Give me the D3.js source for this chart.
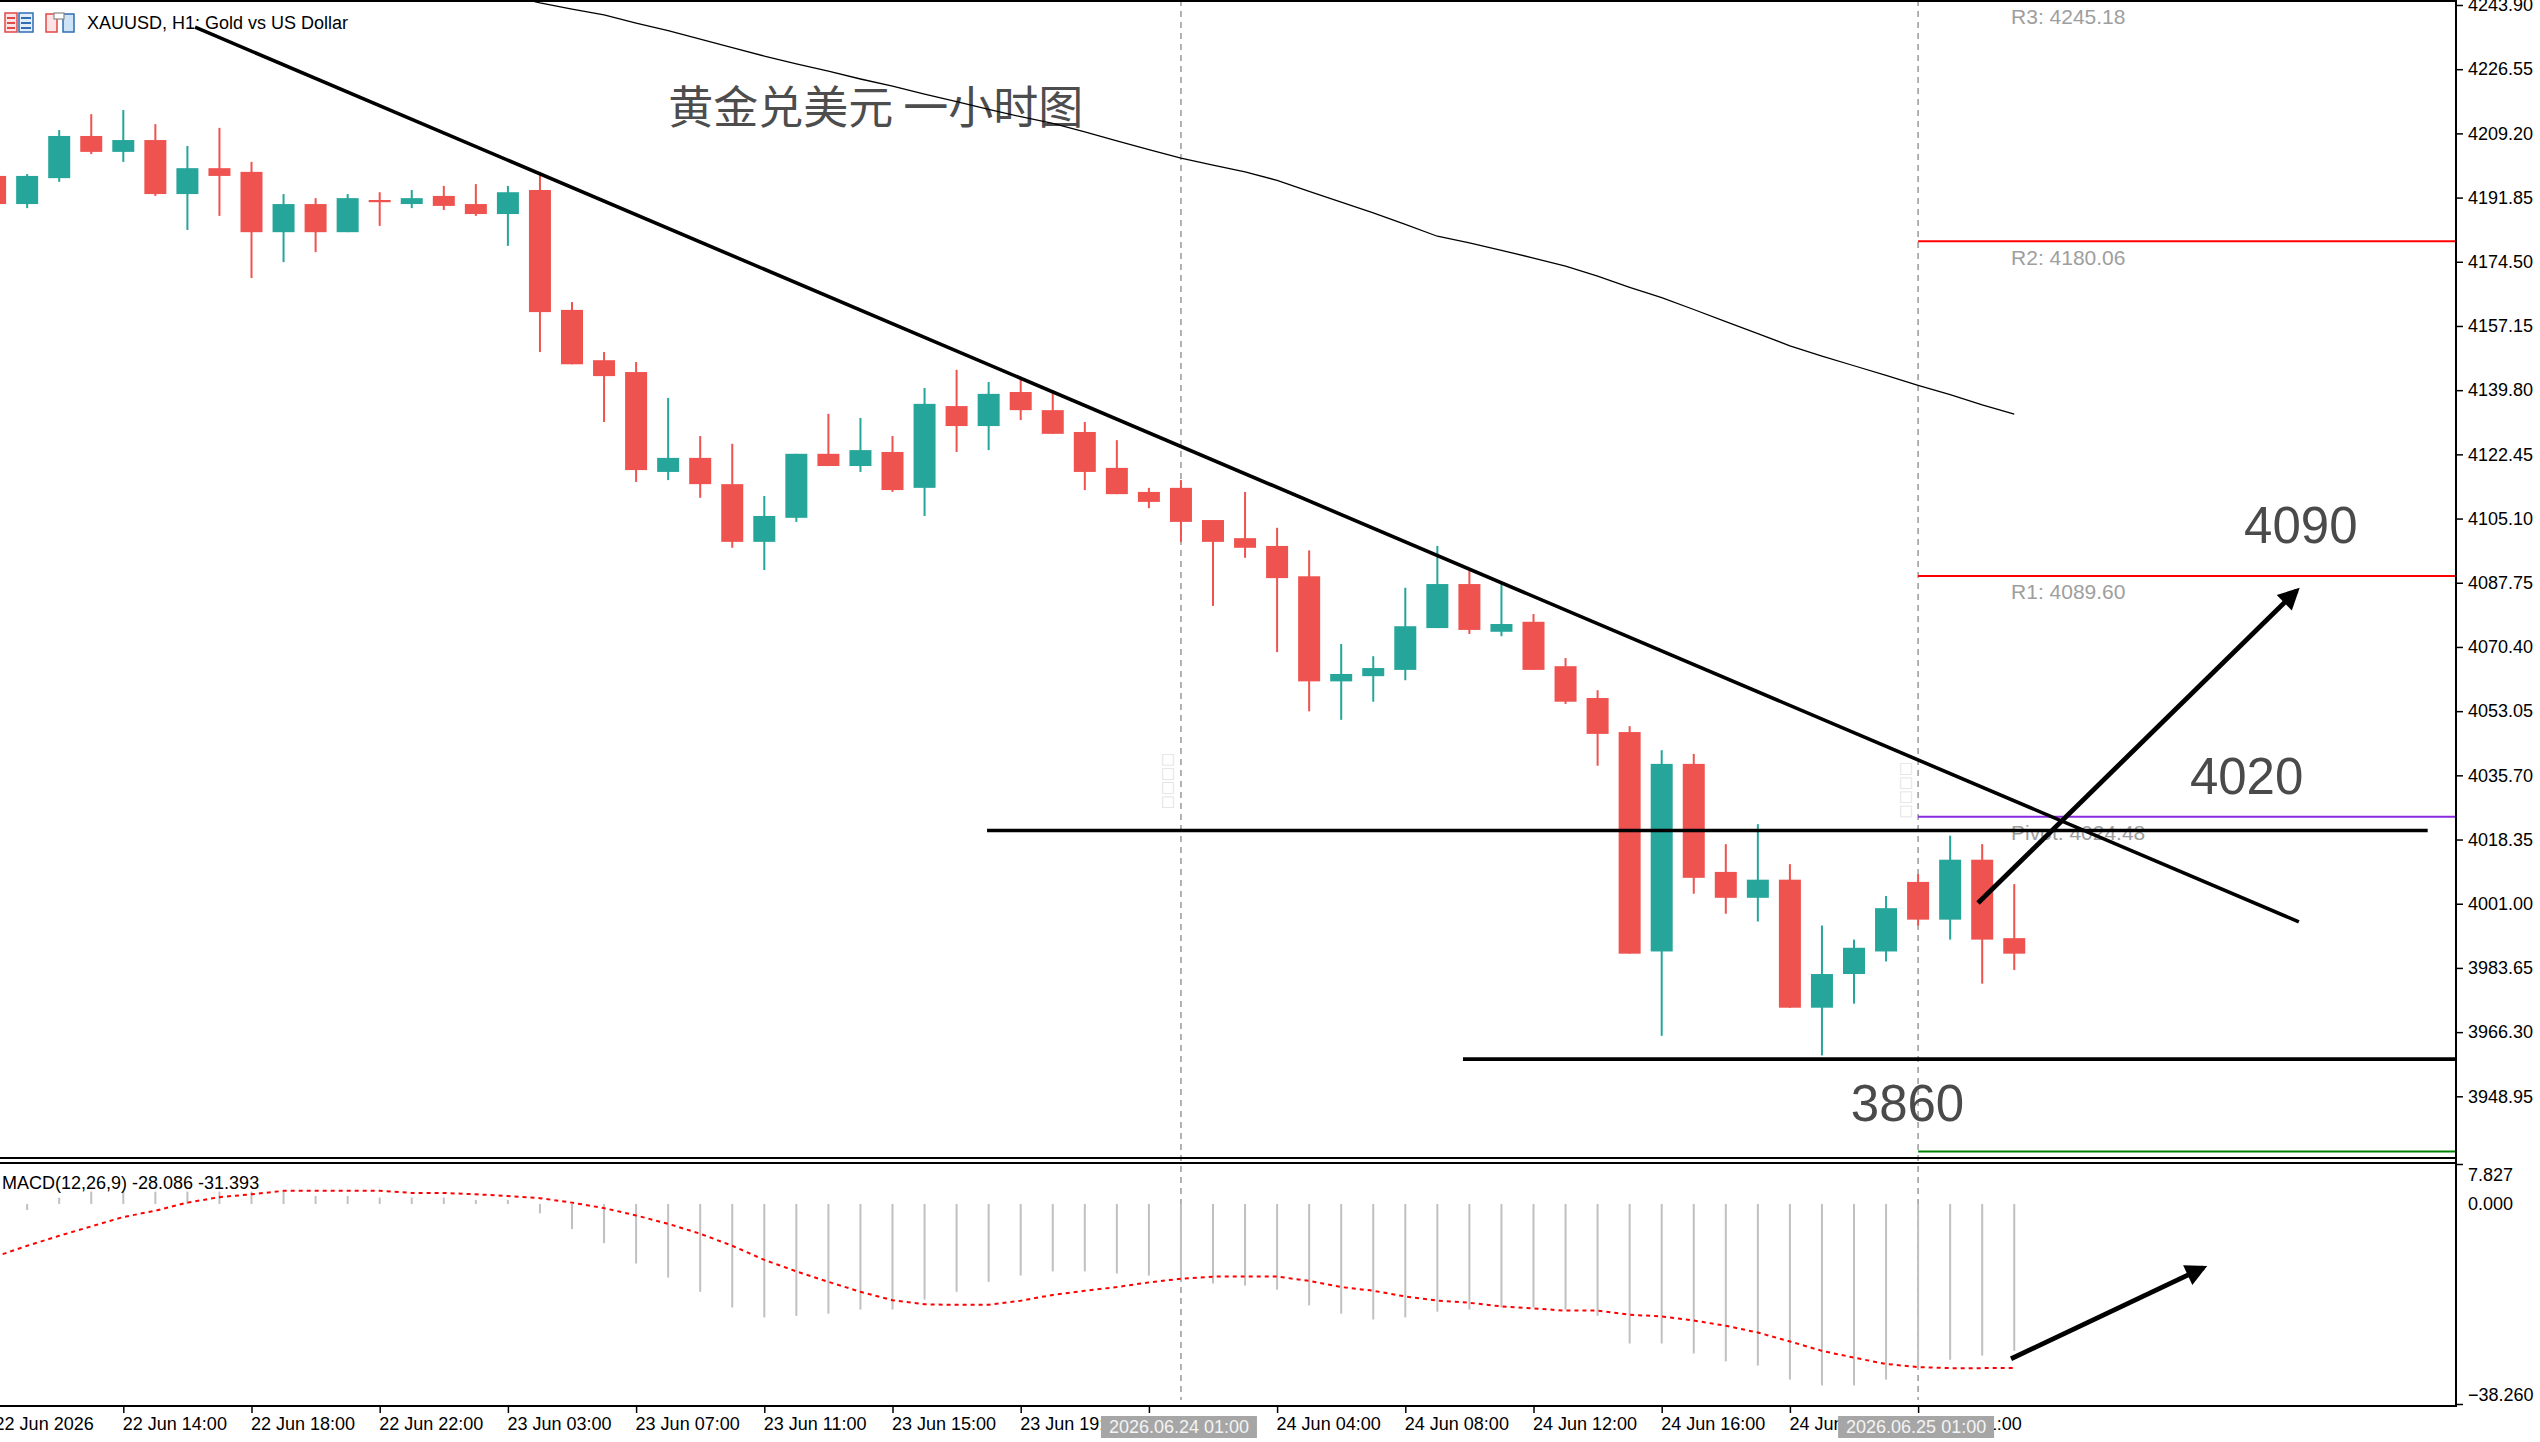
<!DOCTYPE html>
<html>
<head>
<meta charset="utf-8">
<script src="https://cdn.jsdelivr.net/npm/d3@7"></script>
<style>
  html, body { margin: 0; padding: 0; background: #fff; overflow: hidden; }
  svg { display: block; }
  .axis text { font-family: "Liberation Sans", Arial, sans-serif; font-size: 18px; fill: #000; }
  .axis line { stroke: #000; stroke-width: 1.5; }
</style>
</head>
<body>
<div class="container"></div>
<script>
// hourly bars, XAUUSD H1
const times = [
  "2026.06.22 10:00", "2026.06.22 11:00", "2026.06.22 12:00", "2026.06.22 13:00", "2026.06.22 14:00",
  "2026.06.22 15:00", "2026.06.22 16:00", "2026.06.22 17:00", "2026.06.22 18:00", "2026.06.22 19:00",
  "2026.06.22 20:00", "2026.06.22 21:00", "2026.06.22 22:00", "2026.06.22 23:00", "2026.06.23 01:00",
  "2026.06.23 02:00", "2026.06.23 03:00", "2026.06.23 04:00", "2026.06.23 05:00", "2026.06.23 06:00",
  "2026.06.23 07:00", "2026.06.23 08:00", "2026.06.23 09:00", "2026.06.23 10:00", "2026.06.23 11:00",
  "2026.06.23 12:00", "2026.06.23 13:00", "2026.06.23 14:00", "2026.06.23 15:00", "2026.06.23 16:00",
  "2026.06.23 17:00", "2026.06.23 18:00", "2026.06.23 19:00", "2026.06.23 20:00", "2026.06.23 21:00",
  "2026.06.23 22:00", "2026.06.23 23:00", "2026.06.24 01:00", "2026.06.24 02:00", "2026.06.24 03:00",
  "2026.06.24 04:00", "2026.06.24 05:00", "2026.06.24 06:00", "2026.06.24 07:00", "2026.06.24 08:00",
  "2026.06.24 09:00", "2026.06.24 10:00", "2026.06.24 11:00", "2026.06.24 12:00", "2026.06.24 13:00",
  "2026.06.24 14:00", "2026.06.24 15:00", "2026.06.24 16:00", "2026.06.24 17:00", "2026.06.24 18:00",
  "2026.06.24 19:00", "2026.06.24 20:00", "2026.06.24 21:00", "2026.06.24 22:00", "2026.06.24 23:00",
  "2026.06.25 01:00", "2026.06.25 02:00", "2026.06.25 03:00", "2026.06.25 04:00"
];

const opens = [
  4197.7, 4190.1, 4197.1, 4208.5, 4204.2, 4207.4, 4192.8, 4199.8, 4198.8, 4182.5,
  4190.1, 4182.5, 4191.2, 4190.1, 4192.3, 4190.1, 4187.4, 4193.9, 4161.5, 4147.9,
  4144.7, 4117.7, 4121.5, 4114.4, 4098.8, 4105.3, 4122.6, 4119.3, 4123.1, 4113.4,
  4135.5, 4130.1, 4139.3, 4134.4, 4128.5, 4118.8, 4112.3, 4113.4, 4104.7, 4099.8,
  4097.7, 4089.5, 4061.1, 4062.5, 4064.2, 4075.5, 4087.4, 4074.5, 4077.2, 4065.2,
  4056.6, 4047.4, 3988.1, 4038.8, 4009.6, 4002.6, 4007.5, 3972.9, 3982.0, 3988.1,
  4006.9, 3996.7, 4012.9, 3991.7
];
const highs = [
  4198.5, 4198.2, 4210.1, 4214.4, 4215.5, 4211.7, 4205.8, 4210.7, 4201.5, 4192.8,
  4191.7, 4192.8, 4193.3, 4193.9, 4195.0, 4195.5, 4195.0, 4198.8, 4163.6, 4150.1,
  4147.4, 4137.7, 4127.4, 4125.3, 4111.2, 4122.6, 4133.4, 4132.3, 4127.4, 4140.4,
  4145.3, 4142.0, 4143.1, 4139.8, 4131.2, 4126.3, 4113.4, 4115.5, 4104.7, 4112.3,
  4102.6, 4096.5, 4071.2, 4067.9, 4086.4, 4097.7, 4091.4, 4087.7, 4079.3, 4067.4,
  4058.7, 4049.0, 4042.5, 4041.5, 4017.1, 4022.5, 4011.7, 3995.1, 3991.3, 4003.1,
  4009.0, 4019.4, 4017.1, 4006.3
];
const lows = [
  4189.5, 4189.0, 4196.1, 4203.6, 4201.5, 4192.3, 4183.1, 4186.9, 4170.1, 4174.4,
  4177.1, 4182.5, 4184.2, 4189.0, 4188.5, 4186.9, 4178.8, 4150.1, 4146.8, 4131.2,
  4115.0, 4115.5, 4110.7, 4097.2, 4091.2, 4104.2, 4119.3, 4117.7, 4112.3, 4105.8,
  4123.1, 4123.6, 4131.7, 4128.0, 4112.8, 4111.7, 4107.9, 4098.8, 4081.5, 4094.5,
  4069.0, 4053.0, 4050.7, 4055.6, 4061.4, 4075.5, 4073.9, 4073.3, 4064.2, 4055.0,
  4038.3, 3987.5, 3965.3, 4003.7, 3998.3, 3996.2, 3972.9, 3960.0, 3974.0, 3985.4,
  3995.1, 3991.3, 3979.4, 3983.1
];
const closes = [
  4190.1, 4197.7, 4208.5, 4204.2, 4207.4, 4192.8, 4199.8, 4197.7, 4182.5, 4190.1,
  4182.5, 4191.7, 4190.6, 4191.7, 4189.6, 4187.4, 4193.3, 4160.9, 4146.8, 4143.6,
  4118.2, 4121.5, 4114.4, 4098.8, 4105.8, 4122.6, 4119.3, 4123.6, 4112.8, 4136.1,
  4130.1, 4138.8, 4134.4, 4128.0, 4117.7, 4111.7, 4109.6, 4104.2, 4098.8, 4097.2,
  4089.0, 4061.1, 4063.1, 4064.7, 4076.0, 4087.4, 4075.0, 4076.6, 4064.2, 4055.6,
  4046.9, 3987.5, 4038.8, 4008.0, 4002.6, 4007.5, 3972.9, 3982.0, 3989.1, 3999.8,
  3996.7, 4012.9, 3991.3, 3987.5
];

// moving average, visible from bar 16 on
const maStart = 16;
const maValues = [
  4246.5, 4244.5, 4242.8, 4241.2, 4239.0, 4237.0, 4234.7, 4232.4, 4230.1, 4228.0,
  4226.0, 4223.9, 4222.0, 4219.8, 4217.8, 4215.7, 4213.7, 4211.9, 4209.6, 4207.2,
  4204.8, 4202.5, 4200.6, 4198.8, 4196.5, 4193.5, 4190.6, 4187.7, 4184.6, 4181.4,
  4179.6, 4177.6, 4175.5, 4173.3, 4170.6, 4167.6, 4164.8, 4161.6, 4158.3, 4155.1,
  4151.8, 4149.0, 4146.4, 4143.8, 4141.1, 4138.6, 4135.8, 4133.3
];

const macdMain = [
  -1.8, -1.15, 1.2, 2.36, 2.36, 2.36, 2.36, 2.36, 2.36, 2.36,
  1.53, 1.53, 1.2, 1.2, 1.2, 0.76, 0.76, -1.8, -4.8, -7.5,
  -11.4, -14.1, -16.8, -19.8, -21.7, -21.4, -21.0, -20.2, -20.2, -18.3,
  -16.8, -14.9, -13.7, -12.9, -12.9, -13.3, -13.7, -14.5, -15.2, -15.6,
  -16.4, -19.4, -21.0, -22.1, -21.7, -20.6, -20.2, -19.8, -19.8, -20.2,
  -21.4, -26.7, -26.7, -28.6, -30.1, -30.9, -33.6, -34.7, -34.7, -33.6,
  -31.7, -29.8, -29.0, -28.086
];
const macdSignal = [
  -10.1, -8.0, -6.1, -4.3, -2.5, -1.3, 0.25, 1.3, 1.85, 2.5,
  2.5, 2.5, 2.5, 2.1, 2.1, 1.85, 1.5, 1.1, 0.25, -0.8,
  -2.2, -3.8, -5.7, -8.0, -10.7, -12.9, -14.9, -16.8, -18.4, -19.2,
  -19.3, -19.3, -18.5, -17.4, -16.6, -15.9, -15.0, -14.3, -13.9, -13.9,
  -13.9, -14.7, -15.9, -16.6, -17.7, -18.5, -18.9, -19.6, -20.0, -20.4,
  -20.4, -21.2, -21.5, -22.3, -23.3, -24.6, -26.3, -28.1, -29.4, -30.6,
  -31.2, -31.4, -31.4, -31.393
];

const priceTicks = [
  4243.90, 4226.55, 4209.20, 4191.85, 4174.50, 4157.15, 4139.80, 4122.45, 4105.10,
  4087.75, 4070.40, 4053.05, 4035.70, 4018.35, 4001.00, 3983.65, 3966.30, 3948.95
];
const macdTicks = [7.827, 0, -38.26];
const timeTickIdx = [0, 4, 8, 12, 16, 20, 24, 28, 32, 36, 40, 44, 48, 52, 56, 60];
const markedBars = [37, 60];

const pivotNames = ["R3", "R2", "R1", "Pivot", "S1"];
const pivotValues = [4245.18, 4180.06, 4089.60, 4024.48, 3934.02];
const pivotFrom = 60;

// drawn objects, in [bar index, price]
const trendLine = [[6.24, 4237.9], [71.88, 3996.1]];
const resistLine = [[30.95, 4020.8], [75.9, 4020.8]];
const supportLine = [[45.8, 3959.0], [80, 3959.0]];
const upArrow = [[61.87, 4001.2], [71.81, 4085.6]];
const macdArrow = [[62.9, -29.6], [68.9, -12.2]];
const bigLabels = [
  { text: "4090", i: 70.17, p: 4103.1 },
  { text: "4020", i: 68.48, p: 4035.3 },
  { text: "3860", i: 57.9, p: 3946.9 }
];
const title = { text: "黄金兑美元 一小时图", i: 21.0, p: 4217.1 };
const tofuLabels = [{ i: 36.56, p: 4034.2 }, { i: 59.59, p: 4031.7 }];

const props = {
  width: 2540,
  height: 1442,
  axisX: 2456,
  priceBottom: 1158,
  macdTop: 1163,
  macdBottom: 1406,
  up: "#26a69a",
  down: "#ef5350",
  pivotColors: { R3: "#ff0000", R2: "#ff0000", R1: "#ff0000", Pivot: "#8a2be2", S1: "#008000" }
};

const months = ["Jan", "Feb", "Mar", "Apr", "May", "Jun", "Jul", "Aug", "Sep", "Oct", "Nov", "Dec"];
function timeLabel(i, k) {
  const t = times[i];
  const day = t.slice(8, 10);
  const mon = months[+t.slice(5, 7) - 1];
  return k === 0 ? `${day} ${mon} ${t.slice(0, 4)}` : `${day} ${mon} ${t.slice(11)}`;
}

function drawChart() {
  const { width, height, axisX, priceBottom, macdTop, macdBottom } = props;
  const svg = d3.select(".container").append("svg")
    .attr("width", width).attr("height", height);

  const x = d3.scaleLinear().domain([0, 63]).range([-4.9, 2014.25]);
  const y = d3.scaleLinear().domain([3932.28, 4245.25]).range([priceBottom, 0]);
  const ym = d3.scaleLinear().domain([-38.26, 7.827]).range([1404, macdTop]);

  const defs = svg.append("defs");
  defs.append("clipPath").attr("id", "clip-price")
    .append("rect").attr("x", 0).attr("y", 0).attr("width", axisX).attr("height", priceBottom);
  defs.append("clipPath").attr("id", "clip-macd")
    .append("rect").attr("x", 0).attr("y", macdTop).attr("width", axisX).attr("height", macdBottom - macdTop);
  defs.append("marker").attr("id", "head").attr("viewBox", "0 0 10 10")
    .attr("refX", 8).attr("refY", 5).attr("markerWidth", 6).attr("markerHeight", 4.5)
    .attr("orient", "auto").attr("markerUnits", "strokeWidth")
    .append("path").attr("d", "M0,0 L10,5 L0,10 z").attr("fill", "#000");

  // dashed verticals behind everything
  svg.append("g").selectAll("line").data(markedBars).enter().append("line")
    .attr("x1", d => x(d)).attr("x2", d => x(d))
    .attr("y1", 0).attr("y2", macdBottom - 6)
    .attr("stroke", "#a0a0a0").attr("stroke-width", 1.6).attr("stroke-dasharray", "6,5");

  const price = svg.append("g").attr("clip-path", "url(#clip-price)");

  // header
  const hdr = price.append("g");
  hdr.append("rect").attr("x", 5).attr("y", 13).attr("width", 12).attr("height", 19)
    .attr("fill", "#fde3e3").attr("stroke", "#e04848").attr("stroke-width", 1.5);
  hdr.append("rect").attr("x", 19).attr("y", 13).attr("width", 14).attr("height", 19)
    .attr("fill", "#e3eefa").attr("stroke", "#2f6db5").attr("stroke-width", 1.5);
  [18, 23, 28].forEach(v => {
    hdr.append("line").attr("x1", 7).attr("x2", 15).attr("y1", v).attr("y2", v).attr("stroke", "#e04848").attr("stroke-width", 2);
    hdr.append("line").attr("x1", 21).attr("x2", 31).attr("y1", v).attr("y2", v).attr("stroke", "#2f6db5").attr("stroke-width", 2);
  });
  hdr.append("rect").attr("x", 46).attr("y", 14).attr("width", 11).attr("height", 18)
    .attr("fill", "#fde3e3").attr("stroke", "#e04848").attr("stroke-width", 1.5);
  hdr.append("rect").attr("x", 63).attr("y", 14).attr("width", 11).attr("height", 18)
    .attr("fill", "#cfe3f7").attr("stroke", "#2f6db5").attr("stroke-width", 1.5);
  hdr.append("rect").attr("x", 54).attr("y", 13).attr("width", 10).attr("height", 6)
    .attr("fill", "#fff").attr("stroke", "#888").attr("stroke-width", 1.2);
  hdr.append("text").attr("x", 87).attr("y", 29)
    .attr("font-family", "Liberation Sans, Arial, sans-serif").attr("font-size", 18)
    .text("XAUUSD, H1:  Gold vs US Dollar");

  // pivot levels
  const piv = pivotNames.map((n, k) => ({ name: n, value: pivotValues[k] }));
  price.append("g").selectAll("line").data(piv).enter().append("line")
    .attr("x1", x(pivotFrom)).attr("x2", axisX)
    .attr("y1", d => y(d.value)).attr("y2", d => y(d.value))
    .attr("stroke", d => props.pivotColors[d.name]).attr("stroke-width", 2);
  price.append("g").selectAll("text").data(piv).enter().append("text")
    .attr("x", x(62.9)).attr("y", d => y(d.value) + 16)
    .attr("dominant-baseline", "central")
    .attr("font-family", "Liberation Sans, Arial, sans-serif").attr("font-size", 21)
    .attr("fill", "#9e9e9e")
    .text(d => `${d.name}: ${d.value.toFixed(2)}`);

  // tofu object labels
  price.append("g").selectAll("text").data(tofuLabels).enter().append("text")
    .attr("transform", d => `translate(${x(d.i)},${y(d.p)}) rotate(-90)`)
    .attr("text-anchor", "middle").attr("dominant-baseline", "central")
    .attr("font-family", "DejaVu Sans, sans-serif").attr("font-size", 15)
    .attr("fill", "#e2e2e2").text("□□□□");

  // title
  price.append("text")
    .attr("x", x(title.i)).attr("y", y(title.p))
    .attr("dominant-baseline", "central")
    .attr("font-family", "Noto Sans CJK SC, sans-serif").attr("font-size", 45)
    .attr("fill", "#4d4d4d").text(title.text);

  // moving average
  const line = d3.line().x(d => x(d[0])).y(d => y(d[1]));
  price.append("path")
    .datum(maValues.map((v, k) => [maStart + k, v]))
    .attr("d", line).attr("fill", "none").attr("stroke", "#000").attr("stroke-width", 1.3);

  // candles
  const bars = d3.range(times.length).map(i => ({
    i, o: opens[i], h: highs[i], l: lows[i], c: closes[i]
  }));
  const bodyW = 22;
  const cg = price.append("g").selectAll("g").data(bars).enter().append("g")
    .attr("fill", d => d.c >= d.o ? props.up : props.down);
  cg.append("rect")
    .attr("x", d => x(d.i) - 1).attr("width", 2)
    .attr("y", d => y(d.h)).attr("height", d => Math.max(1, y(d.l) - y(d.h)));
  cg.append("rect")
    .attr("x", d => x(d.i) - bodyW / 2).attr("width", bodyW)
    .attr("y", d => y(Math.max(d.o, d.c)))
    .attr("height", d => Math.max(2, Math.abs(y(d.o) - y(d.c))));

  // drawn lines
  price.append("path").datum(trendLine).attr("d", line)
    .attr("stroke", "#000").attr("stroke-width", 3.6).attr("fill", "none");
  price.append("path").datum(resistLine).attr("d", line)
    .attr("stroke", "#000").attr("stroke-width", 3.6).attr("fill", "none");
  price.append("path").datum(supportLine).attr("d", line)
    .attr("stroke", "#000").attr("stroke-width", 3.6).attr("fill", "none");
  price.append("path").datum(upArrow).attr("d", line)
    .attr("stroke", "#000").attr("stroke-width", 4.8).attr("fill", "none")
    .attr("marker-end", "url(#head)");

  price.append("g").selectAll("text").data(bigLabels).enter().append("text")
    .attr("x", d => x(d.i)).attr("y", d => y(d.p))
    .attr("dominant-baseline", "central")
    .attr("font-family", "Liberation Sans, Arial, sans-serif").attr("font-size", 51)
    .attr("fill", "#4a4a4a").text(d => d.text);

  // MACD pane
  const macd = svg.append("g").attr("clip-path", "url(#clip-macd)");
  macd.append("g").selectAll("rect").data(macdMain).enter().append("rect")
    .attr("x", (d, i) => x(i) - 1).attr("width", 2)
    .attr("y", d => Math.min(ym(d), ym(0)))
    .attr("height", d => Math.abs(ym(d) - ym(0)))
    .attr("fill", "#c0c0c0");
  macd.append("path")
    .datum(macdSignal.map((v, i) => [i, v]))
    .attr("d", d3.line().x(d => x(d[0])).y(d => ym(d[1])))
    .attr("fill", "none").attr("stroke", "#ff0000").attr("stroke-width", 2)
    .attr("stroke-dasharray", "4,4");
  macd.append("path").datum(macdArrow)
    .attr("d", d3.line().x(d => x(d[0])).y(d => ym(d[1])))
    .attr("stroke", "#000").attr("stroke-width", 4.8).attr("fill", "none")
    .attr("marker-end", "url(#head)");
  macd.append("text").attr("x", 2).attr("y", 1189)
    .attr("font-family", "Liberation Sans, Arial, sans-serif").attr("font-size", 18)
    .text(`MACD(12,26,9) ${macdMain[63].toFixed(3)} ${macdSignal[63].toFixed(3)}`);

  // frame
  const frame = svg.append("g").attr("stroke", "#000").attr("stroke-width", 2);
  frame.append("line").attr("x1", 0).attr("x2", axisX).attr("y1", 1).attr("y2", 1);
  frame.append("line").attr("x1", 0).attr("x2", axisX).attr("y1", priceBottom).attr("y2", priceBottom);
  frame.append("line").attr("x1", 0).attr("x2", axisX).attr("y1", macdTop).attr("y2", macdTop);
  frame.append("line").attr("x1", 0).attr("x2", axisX).attr("y1", macdBottom).attr("y2", macdBottom);
  frame.append("line").attr("x1", axisX).attr("x2", axisX).attr("y1", 0).attr("y2", macdBottom + 1);

  // price axis
  const pa = svg.append("g").attr("class", "axis")
    .attr("transform", `translate(${axisX},0)`)
    .call(d3.axisRight(y).tickValues(priceTicks).tickFormat(d3.format(".2f"))
      .tickSize(7).tickSizeOuter(0).tickPadding(5));
  pa.select(".domain").remove();

  // macd axis
  const ma = svg.append("g").attr("class", "axis")
    .attr("transform", `translate(${axisX},0)`)
    .call(d3.axisRight(ym).tickValues(macdTicks).tickFormat(d3.format(".3f"))
      .tickSize(7).tickSizeOuter(0).tickPadding(5));
  ma.select(".domain").remove();
  ma.selectAll(".tick").filter(d => d === 0).select("line").remove();
  ma.selectAll(".tick text").attr("dy", d => d === macdTicks[0] ? "0.95em" : d === macdTicks[2] ? "-0.2em" : "0.32em");
  ma.selectAll(".tick").filter(d => d === macdTicks[0]).select("line").attr("transform", "translate(0,1)");

  // time axis
  const ta = svg.append("g").attr("class", "axis")
    .attr("transform", `translate(0,${macdBottom})`)
    .call(d3.axisBottom(x).tickValues(timeTickIdx)
      .tickFormat((d, k) => timeLabel(d, k)).tickSize(7).tickSizeOuter(0).tickPadding(4));
  ta.select(".domain").remove();
  ta.selectAll(".tick text").attr("text-anchor", "start").attr("x", -1);

  // highlighted bar times
  const hl = svg.append("g").selectAll("g").data(markedBars).enter().append("g")
    .attr("transform", d => `translate(${x(d) - 2},${macdBottom})`);
  hl.append("rect").attr("x", -78).attr("y", 10).attr("width", 156).attr("height", 22)
    .attr("fill", "#a6a6a6");
  hl.append("text").attr("y", 21).attr("text-anchor", "middle").attr("dominant-baseline", "central")
    .attr("font-family", "Liberation Sans, Arial, sans-serif").attr("font-size", 18)
    .attr("fill", "#f4f4f4").text(d => times[d]);
}

document.addEventListener("DOMContentLoaded", drawChart);
</script>
</body>
</html>
